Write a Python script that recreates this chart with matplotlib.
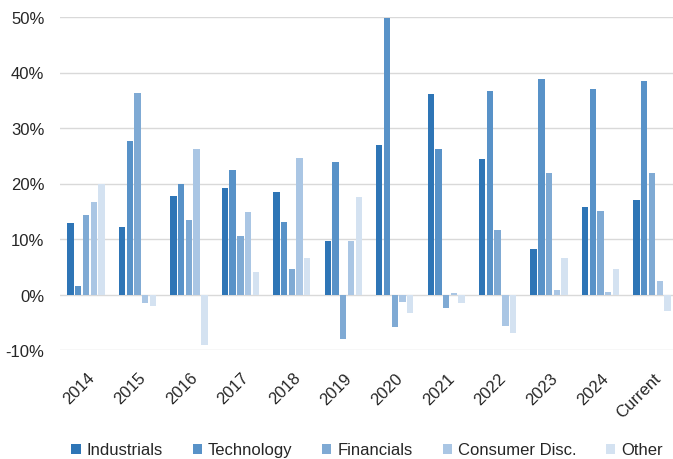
import numpy as np
import matplotlib.pyplot as plt
import matplotlib.transforms as mtransforms
from matplotlib.ticker import PercentFormatter

plt.rcParams['font.family'] = ['Liberation Sans', 'DejaVu Sans']
plt.rcParams['axes.unicode_minus'] = False

# data (values in %)
categories = ['2014', '2015', '2016', '2017', '2018', '2019', '2020',
              '2021', '2022', '2023', '2024', 'Current']
industrials = [12.8, 12.2, 17.7, 19.2, 18.4, 9.6, 26.9, 36.1, 24.4, 8.2, 15.7, 17.0]
technology = [1.6, 27.7, 20.0, 22.5, 13.1, 23.8, 49.9, 26.2, 36.7, 38.8, 37.0, 38.4]
financials = [14.3, 36.3, 13.4, 10.5, 4.6, -8.0, -5.9, -2.4, 11.7, 21.9, 15.0, 21.9]
consumer_disc = [16.6, -1.6, 26.2, 14.9, 24.6, 9.6, -1.4, 0.2, -5.6, 0.9, 0.5, 2.4]
other = [19.9, -2.1, -9.1, 4.1, 6.5, 17.6, -3.3, -1.5, -7.0, 6.6, 4.6, -2.9]

series = [
    ('Industrials', industrials, '#2E75B6'),
    ('Technology', technology, '#5892C8'),
    ('Financials', financials, '#7FAAD4'),
    ('Consumer Disc.', consumer_disc, '#AAC6E4'),
    ('Other', other, '#D4E2F1'),
]

fig = plt.figure(figsize=(6.73, 4.60), dpi=100)
ax = fig.add_axes([60.3 / 673, 1 - 351 / 460, 617.4 / 673, 333 / 460])

x = np.arange(len(categories))
slot = 0.15
for i, (name, vals, color) in enumerate(series):
    ax.bar(x + (i - 2) * slot, vals, width=0.124, color=color, label=name, zorder=3)

ax.set_xlim(-0.5, len(categories) - 0.5)
ax.set_ylim(-10, 50)
ax.set_yticks(range(-10, 51, 10))
ax.yaxis.set_major_formatter(PercentFormatter(decimals=0))
ax.grid(axis='y', color='#D9D9D9', linewidth=1, zorder=0)
for s in ax.spines.values():
    s.set_visible(False)
ax.tick_params(axis='y', length=0, pad=11.5, labelsize=12, labelcolor='#262626')
ax.tick_params(axis='x', length=0, pad=18, labelsize=12, labelcolor='#262626')

ax.set_xticks(x)
ax.set_xticklabels(categories, rotation=45, ha='right', va='center',
                   rotation_mode='anchor')
# shift the rotated labels a little to the right, like the original
offset = mtransforms.ScaledTranslation(6 / 100, 0, fig.dpi_scale_trans)
for lab in ax.get_xticklabels():
    lab.set_transform(lab.get_transform() + offset)

fig.legend(loc='center', bbox_to_anchor=(367 / 673, 1 - 451 / 460), ncol=5,
           frameon=False, fontsize=12, handlelength=0.55, handleheight=0.55,
           handletextpad=0.35, columnspacing=1.8, labelcolor='#262626')

plt.savefig('out.png', dpi=100)
